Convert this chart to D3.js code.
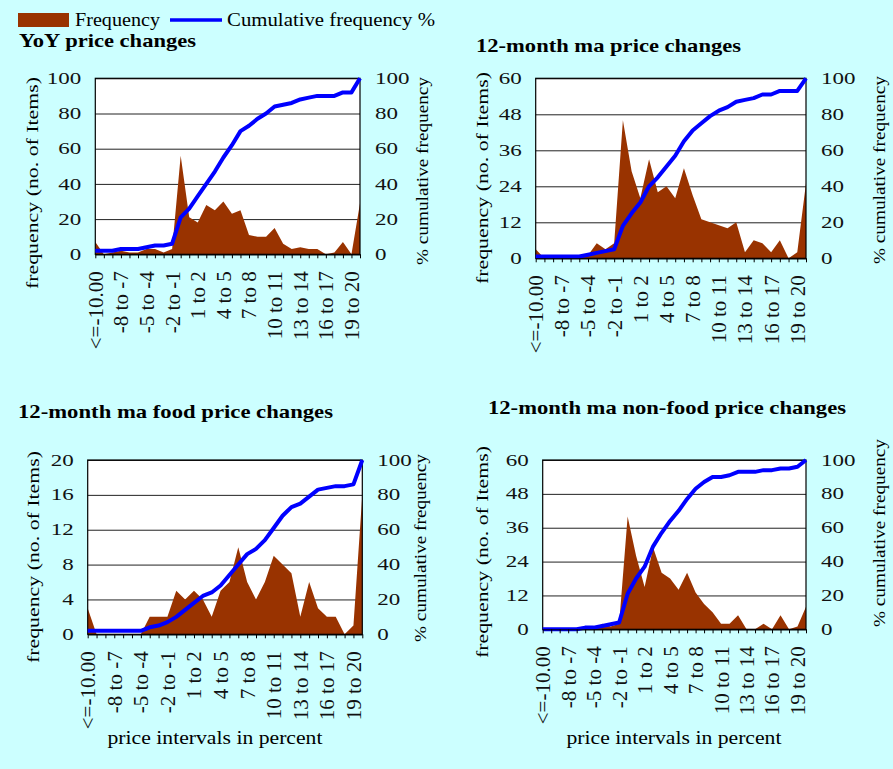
<!DOCTYPE html>
<html>
<head>
<meta charset="utf-8">
<script src="https://cdn.jsdelivr.net/npm/d3@7"></script>
<style>
  body { margin: 0; background: #CCFFFF; }
  svg { display: block; font-family: "Liberation Serif", "Times New Roman", serif; }
</style>
</head>
<body>
<svg id="chart" width="893" height="769"></svg>
<script>
// price interval categories (one every three is labelled)
var categories = ["<=-10.00", "-10 to -9", "-9 to -8", "-8 to -7", "-7 to -6", "-6 to -5",
  "-5 to -4", "-4 to -3", "-3 to -2", "-2 to -1", "-1 to 0", "0 to 1", "1 to 2", "2 to 3",
  "3 to 4", "4 to 5", "5 to 6", "6 to 7", "7 to 8", "8 to 9", "9 to 10", "10 to 11",
  "11 to 12", "12 to 13", "13 to 14", "14 to 15", "15 to 16", "16 to 17", "17 to 18",
  "18 to 19", "19 to 20", ">20"];

// frequencies (no. of items) and cumulative frequency % per panel
var yoyFreq = [7, 0, 1, 2, 1, 1, 3, 3, 1, 3, 56, 21, 18, 28, 25, 30, 23, 25, 11, 10, 10, 15, 6, 3, 4, 3, 3, 0, 1, 7, 0, 29];
var yoyCum = [2, 2, 2, 3, 3, 3, 4, 5, 5, 6, 21, 26, 33, 40, 47, 55, 62, 70, 73, 77, 80, 84, 85, 86, 88, 89, 90, 90, 90, 92, 92, 100];

var maFreq = [3, 0, 0, 0, 0, 0, 1, 5, 3, 5, 46, 29, 20, 33, 22, 24, 20, 30, 21, 13, 12, 11, 10, 12, 2, 6, 5, 2, 6, 0, 2, 25];
var maCum = [1, 1, 1, 1, 1, 1, 2, 3, 4, 5, 18, 25, 31, 40, 45, 51, 57, 65, 71, 75, 79, 82, 84, 87, 88, 89, 91, 91, 93, 93, 93, 100];

var foodFreq = [3, 0, 0, 0, 0, 0, 0, 2, 2, 2, 5, 4, 5, 4, 2, 5, 6, 10, 6, 4, 6, 9, 8, 7, 2, 6, 3, 2, 2, 0, 1, 16];
var foodCum = [2, 2, 2, 2, 2, 2, 2, 4, 5, 7, 10, 14, 18, 22, 24, 28, 34, 40, 46, 49, 54, 61, 68, 73, 75, 79, 83, 84, 85, 85, 86, 100];

var nonFoodFreq = [0, 0, 0, 0, 0, 0, 0, 2, 1, 2, 40, 26, 15, 29, 20, 18, 14, 20, 13, 9, 6, 2, 2, 5, 0, 0, 2, 0, 5, 0, 1, 8];
var nonFoodCum = [0, 0, 0, 0, 0, 1, 1, 2, 3, 4, 21, 30, 37, 49, 57, 64, 70, 77, 83, 87, 90, 90, 91, 93, 93, 93, 94, 94, 95, 95, 96, 100];

// axis tick values
var ticks100 = [0, 20, 40, 60, 80, 100];
var ticks60 = [0, 12, 24, 36, 48, 60];
var ticks20 = [0, 4, 8, 12, 16, 20];

var brown = "#993300";
var blue = "#0000FF";
var serif = "'Liberation Serif', 'Times New Roman', serif";

var svg = d3.select("#chart");

// legend
svg.append("rect")
  .attr("x", 18).attr("y", 13)
  .attr("width", 51).attr("height", 14)
  .attr("fill", brown);
svg.append("text")
  .attr("x", 75).attr("y", 26)
  .attr("font-size", 19)
  .attr("textLength", 85).attr("lengthAdjust", "spacingAndGlyphs")
  .text("Frequency");
svg.append("line")
  .attr("x1", 170).attr("x2", 222)
  .attr("y1", 20).attr("y2", 20)
  .attr("stroke", blue).attr("stroke-width", 3.5);
svg.append("text")
  .attr("x", 227).attr("y", 26)
  .attr("font-size", 19)
  .attr("textLength", 208).attr("lengthAdjust", "spacingAndGlyphs")
  .text("Cumulative frequency %");

// one panel: area for frequency (left axis), line for cumulative % (right axis)
function drawPanel(p) {
  var x = d3.scalePoint().domain(categories).range([p.left, p.right]);
  var yL = d3.scaleLinear().domain([0, p.leftTicks[p.leftTicks.length - 1]]).range([p.bottom, p.top]);
  var yR = d3.scaleLinear().domain([0, 100]).range([p.bottom, p.top]);
  var w = p.right - p.left;

  var g = svg.append("g");

  g.append("rect")
    .attr("x", p.left).attr("y", p.top)
    .attr("width", w).attr("height", p.bottom - p.top)
    .attr("fill", "white");

  // gridlines
  g.append("g")
    .attr("transform", "translate(" + p.left + ",0)")
    .call(d3.axisLeft(yL).tickValues(p.leftTicks).tickSize(-w).tickFormat(""))
    .call(function (s) {
      s.select(".domain").remove();
      s.selectAll(".tick line").attr("stroke", "#222").attr("stroke-width", 1);
    });

  var rows = categories.map(function (c, i) {
    return { cat: c, f: p.freq[i], c: p.cum[i] };
  });

  g.append("path")
    .datum(rows)
    .attr("fill", brown)
    .attr("d", d3.area()
      .x(function (d) { return x(d.cat); })
      .y0(p.bottom)
      .y1(function (d) { return yL(d.f); }));

  g.append("rect")
    .attr("x", p.left).attr("y", p.top)
    .attr("width", w).attr("height", p.bottom - p.top)
    .attr("fill", "none").attr("stroke", "black").attr("stroke-width", 1.2);

  g.append("path")
    .datum(rows)
    .attr("fill", "none")
    .attr("stroke", blue)
    .attr("stroke-width", 4)
    .attr("stroke-linejoin", "round")
    .attr("d", d3.line()
      .x(function (d) { return x(d.cat); })
      .y(function (d) { return yR(d.c); }));

  // x-axis: a tick for every interval, a label every third
  var xAxis = d3.axisBottom(x)
    .tickSizeInner(4)
    .tickSizeOuter(0)
    .tickFormat(function (d, i) { return i % 3 === 0 ? d : ""; });

  g.append("g")
    .attr("transform", "translate(0," + p.bottom + ")")
    .call(xAxis)
    .attr("font-family", serif)
    .call(function (s) {
      s.select(".domain").attr("stroke", "black");
      s.selectAll(".tick line").attr("stroke", "black");
      s.selectAll(".tick text")
        .attr("font-size", 21)
        .attr("fill", "#111")
        .attr("text-anchor", "end")
        .attr("x", 0).attr("y", 0)
        .attr("dy", "0.33em")
        .attr("transform", "translate(0,17) rotate(-90)");
    });

  // left and right value axes
  g.append("g")
    .attr("transform", "translate(" + p.left + ",0)")
    .call(d3.axisLeft(yL).tickValues(p.leftTicks).tickSize(0).tickPadding(14))
    .call(styleValueAxis);

  g.append("g")
    .attr("transform", "translate(" + p.right + ",0)")
    .call(d3.axisRight(yR).tickValues(ticks100).tickSize(0).tickPadding(15))
    .call(styleValueAxis);

  // titles
  g.append("text")
    .attr("x", p.titleX).attr("y", p.titleY)
    .attr("font-size", 19).attr("font-weight", "bold")
    .attr("textLength", p.titleLen).attr("lengthAdjust", "spacingAndGlyphs")
    .text(p.title);

  g.append("text")
    .attr("transform", "translate(" + p.lLabel[0] + "," + p.lLabel[1] + ") rotate(-90)")
    .attr("text-anchor", "middle")
    .attr("font-size", 17)
    .attr("textLength", 212).attr("lengthAdjust", "spacingAndGlyphs")
    .text("frequency (no. of Items)");

  g.append("text")
    .attr("transform", "translate(" + p.rLabel[0] + "," + p.rLabel[1] + ") rotate(-90)")
    .attr("text-anchor", "middle")
    .attr("font-size", 17)
    .attr("textLength", 188).attr("lengthAdjust", "spacingAndGlyphs")
    .text("% cumulative frequency");

  if (p.xTitle) {
    g.append("text")
      .attr("x", p.xTitle[0]).attr("y", p.xTitle[1])
      .attr("text-anchor", "middle")
      .attr("font-size", 18)
      .attr("textLength", 215).attr("lengthAdjust", "spacingAndGlyphs")
      .text("price intervals in percent");
  }
}

function styleValueAxis(s) {
  s.attr("font-family", serif);
  s.select(".domain").remove();
  s.selectAll(".tick text")
    .attr("font-size", 16)
    .attr("fill", "#111")
    .attr("textLength", function (d) { return String(d).length * 11.5; })
    .attr("lengthAdjust", "spacingAndGlyphs");
}

drawPanel({
  title: "YoY price changes", titleX: 19, titleY: 47, titleLen: 177,
  left: 95.3, right: 360, top: 78.3, bottom: 254.3,
  leftTicks: ticks100, freq: yoyFreq, cum: yoyCum,
  lLabel: [38, 183], rLabel: [428, 171]
});

drawPanel({
  title: "12-month ma price changes", titleX: 476, titleY: 52, titleLen: 265,
  left: 535.7, right: 806, top: 78.3, bottom: 258.3,
  leftTicks: ticks60, freq: maFreq, cum: maCum,
  lLabel: [488, 178], rLabel: [885, 170]
});

drawPanel({
  title: "12-month ma food price changes", titleX: 18, titleY: 418, titleLen: 315,
  left: 87.7, right: 362.3, top: 460, bottom: 634.3,
  leftTicks: ticks20, freq: foodFreq, cum: foodCum,
  lLabel: [39, 557], rLabel: [426, 548],
  xTitle: [215, 744]
});

drawPanel({
  title: "12-month ma non-food price changes", titleX: 488, titleY: 414, titleLen: 358,
  left: 542.7, right: 806, top: 460, bottom: 629.3,
  leftTicks: ticks60, freq: nonFoodFreq, cum: nonFoodCum,
  lLabel: [488, 552], rLabel: [885, 533],
  xTitle: [674, 744]
});
</script>
</body>
</html>
